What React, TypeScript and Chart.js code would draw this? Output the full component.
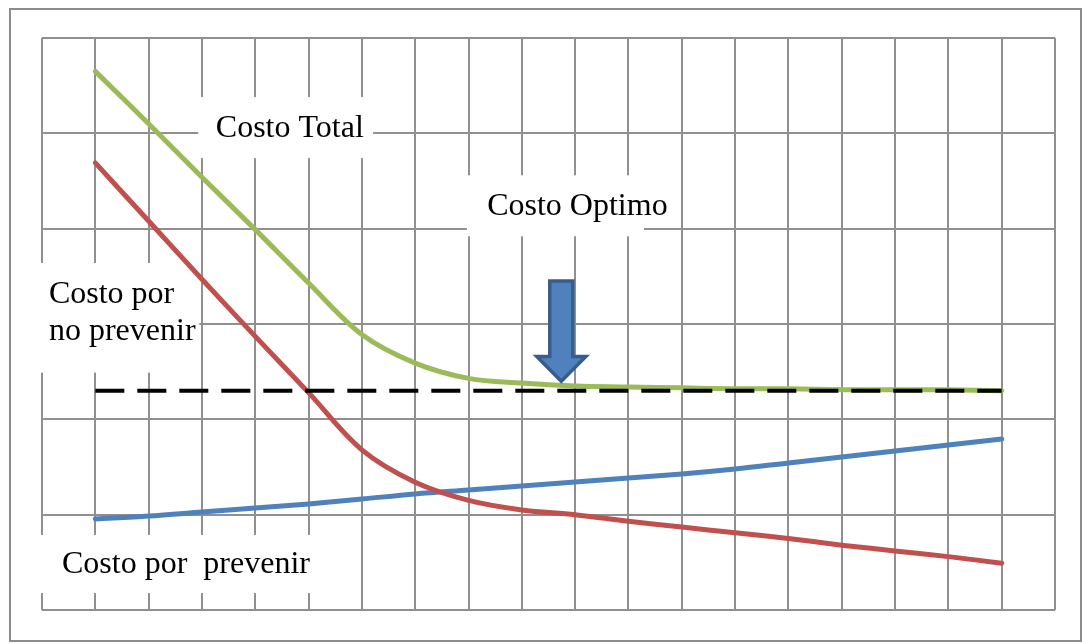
import React, { useEffect, useRef } from "react";
import { Chart, registerables } from "chart.js";

Chart.register(...registerables);

// Data (x = position index along the horizontal axis, y = cost level)
const xValues = [1, 2, 3, 4, 5, 6, 7, 8, 9, 10, 11, 12, 13, 14, 15, 16, 17, 18];
const totalCost = [5.65, 5.1, 4.54, 3.99, 3.43, 2.89, 2.59, 2.43, 2.38, 2.35, 2.34, 2.33, 2.32, 2.32, 2.31, 2.31, 2.31, 2.30];
const noPreventCost = [4.69, 4.08, 3.47, 2.87, 2.28, 1.68, 1.34, 1.15, 1.05, 1.0, 0.93, 0.87, 0.81, 0.75, 0.68, 0.62, 0.56, 0.49];
const preventCost = [0.955, 0.986, 1.028, 1.07, 1.112, 1.164, 1.217, 1.259, 1.301, 1.343, 1.385, 1.427, 1.479, 1.542, 1.605, 1.668, 1.731, 1.794];
const optimumX = [1, 18];
const optimumLevel = [2.3, 2.3];

// Annotation text labels
const labelTotal = "Costo Total";
const labelOptimo = "Costo Optimo";
const labelNoPrevenir = ["Costo por", "no prevenir"];
const labelPrevenir = "Costo por  prevenir";

const toPoints = (xs: number[], ys: number[]) => xs.map((x, i) => ({ x, y: ys[i] }));

const annotationPlugin = {
  id: "costAnnotations",
  beforeDatasetsDraw(chart: any) {
    const { ctx, scales } = chart;
    const xs = scales.x;
    const ys = scales.y;
    const box = (x0: number, x1: number, y0: number, y1: number) => {
      const px0 = xs.getPixelForValue(x0);
      const px1 = xs.getPixelForValue(x1);
      const py0 = ys.getPixelForValue(y0);
      const py1 = ys.getPixelForValue(y1);
      ctx.fillRect(px0, py0, px1 - px0, py1 - py0);
    };
    ctx.save();
    ctx.fillStyle = "#ffffff";
    box(2.93, 6.21, 5.38, 4.74);
    box(7.97, 11.29, 4.56, 3.92);
    box(-0.05, 2.95, 3.64, 2.49);
    box(-0.05, 5.18, 0.787, 0.178);
    ctx.restore();
  },
  afterDatasetsDraw(chart: any) {
    const { ctx, scales } = chart;
    const xs = scales.x;
    const ys = scales.y;
    const X = (v: number) => xs.getPixelForValue(v);
    const Y = (v: number) => ys.getPixelForValue(v);

    // Arrow pointing to optimum
    const cx = 9.74;
    const shaftHalf = 0.216;
    const headHalf = 0.46;
    const top = 3.45;
    const headBase = 2.66;
    const tip = 2.4;
    ctx.save();
    ctx.beginPath();
    ctx.moveTo(X(cx - shaftHalf), Y(top));
    ctx.lineTo(X(cx + shaftHalf), Y(top));
    ctx.lineTo(X(cx + shaftHalf), Y(headBase));
    ctx.lineTo(X(cx + headHalf), Y(headBase));
    ctx.lineTo(X(cx), Y(tip));
    ctx.lineTo(X(cx - headHalf), Y(headBase));
    ctx.lineTo(X(cx - shaftHalf), Y(headBase));
    ctx.closePath();
    ctx.fillStyle = "#4F81BD";
    ctx.fill();
    ctx.lineWidth = 3.5;
    ctx.lineJoin = "miter";
    ctx.strokeStyle = "#385D8A";
    ctx.stroke();
    ctx.restore();

    // Texts
    ctx.save();
    ctx.fillStyle = "#000000";
    ctx.font = '32px "Liberation Serif", "Times New Roman", serif';
    ctx.textBaseline = "alphabetic";
    ctx.textAlign = "left";
    ctx.fillText(labelTotal, X(3.26), Y(4.96));
    ctx.fillText(labelOptimo, X(8.35), Y(4.14));
    ctx.fillText(labelNoPrevenir[0], X(0.13), Y(3.22));
    ctx.fillText(labelNoPrevenir[1], X(0.13), Y(2.83));
    ctx.fillText(labelPrevenir, X(0.375), Y(0.39));
    ctx.restore();
  },
};

export default function App() {
  const canvasRef = useRef<HTMLCanvasElement | null>(null);

  useEffect(() => {
    const canvas = canvasRef.current;
    if (!canvas) return;
    const gridColor = "#909090";
    const lineCommon = {
      borderWidth: 5,
      borderCapStyle: "round",
      borderJoinStyle: "round",
      tension: 0.35,
      pointRadius: 0,
      fill: false,
    };
    const chart = new Chart(canvas, {
      type: "line",
      data: {
        datasets: [
          {
            label: "Costo Optimo",
            data: toPoints(optimumX, optimumLevel),
            borderColor: "#000000",
            borderWidth: 4,
            borderDash: [29, 13],
            borderCapStyle: "butt",
            pointRadius: 0,
            fill: false,
            order: 0,
          },
          {
            ...lineCommon,
            label: "Costo Total",
            data: toPoints(xValues, totalCost),
            borderColor: "#9BBB59",
            order: 1,
          },
          {
            ...lineCommon,
            label: "Costo por no prevenir",
            data: toPoints(xValues, noPreventCost),
            borderColor: "#C0504D",
            order: 2,
          },
          {
            ...lineCommon,
            label: "Costo por prevenir",
            data: toPoints(xValues, preventCost),
            borderColor: "#4F81BD",
            order: 3,
          },
        ],
      },
      options: {
        animation: false,
        responsive: false,
        events: [],
        layout: { padding: { left: 42, top: 38, right: 28, bottom: 34 } },
        plugins: {
          legend: { display: false },
          tooltip: { enabled: false },
          title: { display: false },
        },
        scales: {
          x: {
            type: "linear",
            min: 0,
            max: 19,
            ticks: { display: false, stepSize: 1 },
            grid: { color: gridColor, lineWidth: 2, drawTicks: false },
            border: { display: false },
          },
          y: {
            type: "linear",
            min: 0,
            max: 6,
            ticks: { display: false, stepSize: 1 },
            grid: { color: gridColor, lineWidth: 2, drawTicks: false },
            border: { display: false },
          },
        },
      },
      plugins: [annotationPlugin],
    } as any);
    return () => chart.destroy();
  }, []);

  return (
    <div
      style={{
        position: "fixed",
        left: 0,
        top: 0,
        width: 1083,
        height: 644,
        overflow: "hidden",
        background: "#ffffff",
      }}
    >
      <div
        style={{
          position: "absolute",
          left: 9,
          top: 8,
          width: 1073,
          height: 634,
          boxSizing: "border-box",
          border: "2px solid #8c8c8c",
        }}
      />
      <canvas
        ref={canvasRef}
        width={1083}
        height={644}
        style={{ position: "absolute", left: 0, top: 0, width: 1083, height: 644 }}
      />
    </div>
  );
}
